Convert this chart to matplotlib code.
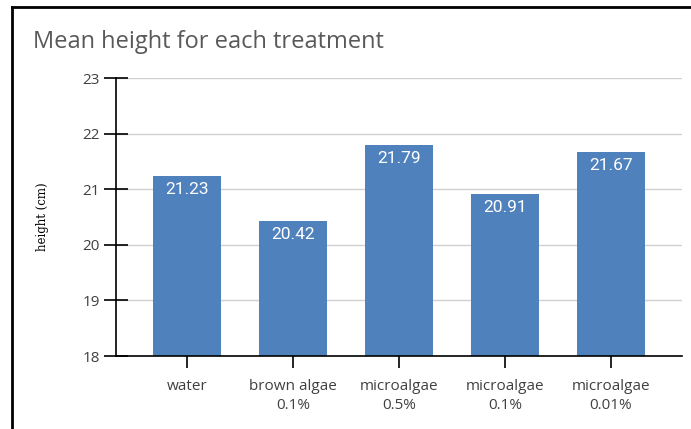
import matplotlib.pyplot as plt
from matplotlib.lines import Line2D

# data
categories = ['water', 'brown algae\n0.1%', 'microalgae\n0.5%', 'microalgae\n0.1%', 'microalgae\n0.01%']
heights = [21.23, 20.42, 21.79, 20.91, 21.67]
y_ticks = [18, 19, 20, 21, 22, 23]

W, H = 691, 429
fig = plt.figure(figsize=(W / 100, H / 100), dpi=100)
fig.patch.set_facecolor('white')

# frame around chart (cut off at right and bottom)
fig.add_artist(Line2D([11.5 / W, 1.0], [1 - 6.5 / H, 1 - 6.5 / H], color='black', lw=2, transform=fig.transFigure))
fig.add_artist(Line2D([11.5 / W, 11.5 / W], [0, 1 - 6.5 / H], color='black', lw=2, transform=fig.transFigure))

ax = fig.add_axes([116 / W, (H - 356) / H, (682 - 116) / W, (356 - 78) / H])

x = list(range(len(categories)))
base = y_ticks[0]
bars = ax.bar(x, [h - base for h in heights], bottom=base, width=0.65, color='#4f81bd', zorder=3)

for xi, h in zip(x, heights):
    ax.text(xi, h - 0.1, f'{h:.2f}', ha='center', va='top', color='white',
            fontsize=12.5, family='Roboto', zorder=4)

ax.set_xlim(-0.67, len(categories) - 1 + 0.67)
ax.set_ylim(y_ticks[0], y_ticks[-1])
ax.set_yticks(y_ticks)
ax.set_xticks(x)
ax.set_xticklabels(categories, fontsize=11, color='#404040', family='Open Sans')
for lbl in ax.get_xticklabels():
    lbl.set_linespacing(1.35)
ax.set_yticklabels([str(t) for t in y_ticks], fontsize=11, color='#404040', family='Open Sans')

ax.grid(axis='y', color='#d0d0d0', lw=1, zorder=0)
for s in ['top', 'right']:
    ax.spines[s].set_visible(False)
for s in ['left', 'bottom']:
    ax.spines[s].set_color('black')
    ax.spines[s].set_linewidth(1.2)
    ax.spines[s].set_zorder(5)

ax.tick_params(axis='both', direction='inout', length=17, width=1.2, color='black')
ax.tick_params(axis='x', pad=8)
ax.tick_params(axis='y', pad=3)

ax.set_ylabel('height (cm)', fontsize=8.5, family='DejaVu Serif', labelpad=24)

fig.text(33 / W, 1 - 42 / H, 'Mean height for each treatment', fontsize=17,
         color='#595959', family='Open Sans', va='center', ha='left')

fig.savefig('out.png', dpi=100)
